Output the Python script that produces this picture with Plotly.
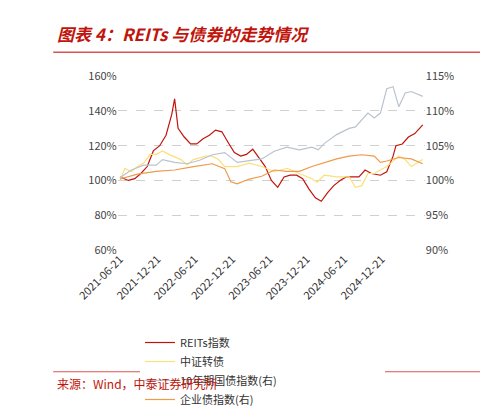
import plotly.graph_objects as go

# REITs指数 (左轴)
reits_dates = ["2021-06-21", "2021-08-01", "2021-09-01", "2021-10-01", "2021-11-01", "2021-12-01",
               "2022-01-01", "2022-02-01", "2022-03-01", "2022-03-15", "2022-04-01", "2022-05-01",
               "2022-06-01", "2022-07-01", "2022-08-01", "2022-09-01", "2022-10-01", "2022-11-01",
               "2022-12-01", "2023-01-01", "2023-02-01", "2023-03-01", "2023-04-01", "2023-05-01",
               "2023-06-01", "2023-07-01", "2023-08-01", "2023-09-01", "2023-10-01", "2023-11-01",
               "2023-12-01", "2024-01-01", "2024-02-01", "2024-03-01", "2024-04-01", "2024-05-01",
               "2024-06-01", "2024-07-01", "2024-08-01", "2024-09-01", "2024-10-01", "2024-11-01",
               "2024-12-15", "2025-01-15", "2025-02-15", "2025-03-01", "2025-04-01", "2025-05-01",
               "2025-06-01", "2025-07-10"]
reits = [102, 100, 101, 104, 108, 117, 120, 126, 138, 147, 130, 125, 121, 121, 124, 126, 129, 128,
         122, 116, 114, 115, 118, 113, 108, 100, 96, 102, 103, 103, 101, 95, 90, 88, 93, 97, 100,
         102, 102, 102, 106, 104, 103, 105, 114, 120, 121, 125, 127, 132]

# 中证转债 (左轴)
cb_dates = ["2021-06-21", "2021-07-15", "2021-08-15", "2021-09-15", "2021-10-15", "2021-11-15",
            "2021-12-15", "2022-01-15", "2022-02-15", "2022-04-15", "2022-05-15", "2022-06-15",
            "2022-08-15", "2022-09-15", "2022-10-15", "2022-11-15", "2023-01-15", "2023-03-15",
            "2023-05-15", "2023-07-15", "2023-09-15", "2023-11-15", "2024-01-15", "2024-02-10",
            "2024-03-15", "2024-05-15", "2024-07-15", "2024-08-15", "2024-09-15", "2024-10-15",
            "2024-11-15", "2024-12-15", "2025-01-15", "2025-03-15", "2025-04-15", "2025-05-15",
            "2025-07-10"]
cb = [100, 107, 105, 108, 110, 115, 115, 117, 115, 112, 109, 112, 114, 114, 112, 108, 108, 110,
      108, 105, 107, 104, 101, 99, 103, 102, 102, 96, 97, 104, 104, 106, 108, 114, 112, 108, 112]

# 10年期国债指数 (右轴)
gov_dates = ["2021-06-21", "2021-08-15", "2021-10-15", "2021-12-15", "2022-01-15", "2022-03-15",
             "2022-05-15", "2022-07-15", "2022-09-15", "2022-11-15", "2023-01-15", "2023-03-15",
             "2023-05-15", "2023-07-15", "2023-09-15", "2023-11-15", "2024-01-15", "2024-02-15",
             "2024-03-15", "2024-05-15", "2024-07-15", "2024-08-15", "2024-09-15", "2024-10-15",
             "2024-11-15", "2024-12-15", "2025-01-15", "2025-02-15", "2025-03-15", "2025-04-15",
             "2025-05-15", "2025-07-10"]
gov = [100.4, 101.5, 102.2, 102.2, 103.0, 102.6, 102.4, 102.9, 103.7, 104.0, 102.6, 102.8,
       103.1, 104.2, 104.8, 104.4, 104.8, 104.4, 105.3, 106.6, 107.5, 107.7, 108.8, 109.7,
       109.0, 109.7, 113.2, 113.5, 110.6, 112.6, 112.8, 112.1]

# 企业债指数 (右轴)
corp_dates = ["2021-06-21", "2021-09-15", "2021-12-15", "2022-03-15", "2022-06-15", "2022-09-15",
              "2022-11-15", "2022-12-15", "2023-01-15", "2023-03-15", "2023-05-15", "2023-07-15",
              "2023-09-15", "2023-11-15", "2024-01-15", "2024-03-15", "2024-05-15", "2024-07-15",
              "2024-09-15", "2024-11-15", "2024-12-15", "2025-01-15", "2025-03-15", "2025-05-15",
              "2025-07-10"]
corp = [100.2, 100.9, 101.3, 101.5, 102.0, 102.4, 101.7, 99.8, 99.5, 100.2, 100.6, 101.5, 101.3,
        101.3, 102.0, 102.6, 103.1, 103.5, 103.7, 103.5, 102.6, 102.8, 103.3, 103.1, 102.4]

tick_dates = ["2021-06-21", "2021-12-21", "2022-06-21", "2022-12-21", "2023-06-21",
              "2023-12-21", "2024-06-21", "2024-12-21"]

FONT = "Noto Sans CJK SC"
fig = go.Figure()
fig.add_trace(go.Scatter(x=reits_dates, y=reits, name="REITs指数", mode="lines",
                         line=dict(color="#c0140c", width=1.2)))
fig.add_trace(go.Scatter(x=cb_dates, y=cb, name="中证转债", mode="lines",
                         line=dict(color="#fbe07a", width=1.2)))
fig.add_trace(go.Scatter(x=gov_dates, y=gov, name="10年期国债指数(右)", mode="lines", yaxis="y2",
                         line=dict(color="#b9c3cf", width=1.2)))
fig.add_trace(go.Scatter(x=corp_dates, y=corp, name="企业债指数(右)", mode="lines", yaxis="y2",
                         line=dict(color="#ee9a4a", width=1.2)))

fig.update_layout(
    width=488, height=406,
    margin=dict(l=0, r=0, t=0, b=0),
    paper_bgcolor="white", plot_bgcolor="white",
    font=dict(family=FONT, size=11, color="#444"),
    showlegend=True,
    legend=dict(orientation="h", x=0.2, y=0.17, xanchor="left", yanchor="top",
                entrywidth=200, font=dict(size=11, color="#333"), tracegroupgap=0,
                itemwidth=30),
    xaxis=dict(domain=[0.15, 0.84], range=["2021-06-10", "2025-07-20"],
               tickvals=tick_dates, ticktext=tick_dates, tickangle=-45,
               showgrid=False, showline=False, ticks="", tickfont=dict(size=11, color="#333")),
    yaxis=dict(range=[60, 160], tickvals=[60, 80, 100, 120, 140, 160],
               ticktext=["60%", "80%", "100%", "120%", "140%", "160%"],
               gridcolor="#d0d0d0", griddash="dash", zeroline=False, showline=False,
               domain=[0.379, 0.842]),
    yaxis2=dict(range=[90, 115], tickvals=[90, 95, 100, 105, 110, 115],
                ticktext=["90%", "95%", "100%", "105%", "110%", "115%"],
                overlaying="y", side="right", showgrid=False, zeroline=False, showline=False),
)

fig.add_annotation(text="<b><i>图表 4：REITs 与债券的走势情况</i></b>", xref="paper", yref="paper",
                   x=0.01, y=0.995, xanchor="left", yanchor="top", showarrow=False,
                   font=dict(size=17, color="#c0140c", family=FONT))
fig.add_shape(type="line", xref="paper", yref="paper", x0=0.005, x1=0.99, y0=0.906, y1=0.906,
              line=dict(color="#d9534f", width=1.5))
fig.add_shape(type="line", xref="paper", yref="paper", x0=0.005, x1=0.99, y0=0.054, y1=0.054,
              line=dict(color="#d9534f", width=1))
fig.add_annotation(text="来源：Wind，中泰证券研究所", xref="paper", yref="paper",
                   x=0.01, y=0.05, xanchor="left", yanchor="top", showarrow=False,
                   font=dict(size=12, color="#c0140c", family=FONT))

fig.write_html("out.html")
